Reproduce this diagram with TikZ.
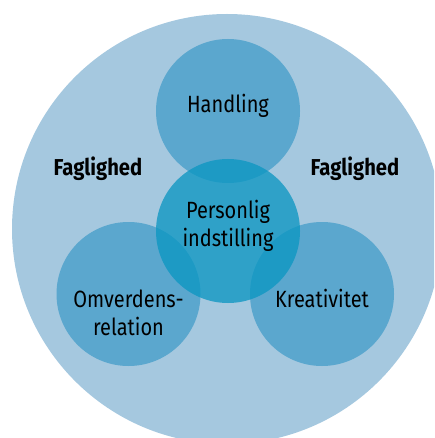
\documentclass[tikz,border=0pt]{standalone}
\usepackage{fontspec}
\setmainfont{Fira Sans}
\newfontfamily\lblfont[FakeStretch=0.85]{Fira Sans}
\newfontfamily\boldfont[FakeStretch=0.88]{Fira Sans Bold}
\definecolor{bgblue}{RGB}{165,200,223}
\definecolor{midblue}{RGB}{91,167,206}
\definecolor{coreblue}{RGB}{10,150,194}
\begin{document}
\begin{tikzpicture}[x=1pt,y=-1pt,
  disc/.style={circle,minimum size=144pt,inner sep=0pt,fill=midblue},
  coredisc/.style={circle,minimum size=144pt,inner sep=0pt,fill=coreblue,fill opacity=0.76},
  lbl/.style={font=\lblfont\fontsize{23.5}{28}\selectfont,align=center,text=black,anchor=base,inner sep=0pt},
  bold/.style={font=\boldfont\fontsize{23}{27}\selectfont,anchor=base,inner sep=0pt}]
\useasboundingbox (0,0) rectangle (434,438);
\clip (0,0) rectangle (434,438);
\node[circle,minimum size=430pt,inner sep=0pt,fill=bgblue] (outer) at (227,229) {};
\node[disc] (hand) at (228,111) {};
\node[disc] (omv) at (128.5,294) {};
\node[disc] (krea) at (322,294) {};
\node[coredisc] (pers) at (228,231) {};
\node[lbl] (thand) at (228,113) {Handling};
\node[lbl] (tomv) at (128.5,335) {Omverdens-\\relation};
\node[lbl] (tkrea) at (322,307) {Kreativitet};
\node[lbl] (tpers) at (228,246) {Personlig\\indstilling};
\node[bold] (fagl) at (98,176) {Faglighed};
\node[bold] (fagr) at (355,176) {Faglighed};
\end{tikzpicture}
\end{document}
